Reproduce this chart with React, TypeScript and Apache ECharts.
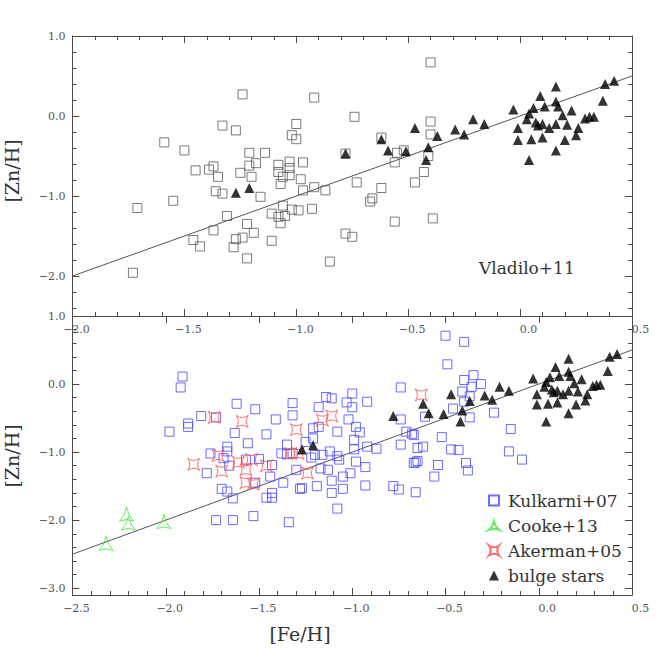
import React, { useEffect, useRef } from "react";
import * as echarts from "echarts";

// ---------- data ----------
// Top panel: Vladilo+11 (grey open squares)
const vladiloFe = [
  -1.24, -0.92, -0.74, -1.33, -1.27, -1.0, -1.59, -1.5, -1.02, -1.0,
  -1.21, -1.14, -1.45, -1.39, -1.37, -1.35, -1.25, -1.21, -1.18, -1.2,
  -1.08, -1.08, -1.03, -1.03, -1.06, -1.03, -1.07, -0.97, -0.98, -1.36,
  -1.33, -1.16, -1.71, -1.55, -1.31, -0.97, -0.92, -0.87, -0.73, -0.93,
  -1.06, -1.11, -1.08, -1.05, -1.07, -1.02, -0.99, -1.22, -1.19, -1.24,
  -1.27, -1.28, -1.22, -1.37, -1.46, -1.43, -1.11, -1.73, -0.85, -0.78,
  -0.75, -0.67, -0.66, -0.62, -0.56, -0.62, -0.55, -0.56, -0.78, -0.4,
  -0.4, -0.4, -0.41, -0.43, -0.47, -0.39, -0.52,
];
const vladiloZn = [
  0.27, 0.23, -0.01, -0.12, -0.18, -0.1, -0.33, -0.43, -0.24, -0.29,
  -0.46, -0.46, -0.68, -0.67, -0.63, -0.76, -0.71, -0.62, -0.59, -0.76,
  -0.61, -0.7, -0.57, -0.65, -0.76, -0.74, -0.85, -0.58, -0.79, -0.94,
  -0.97, -1.01, -1.15, -1.06, -1.25, -0.93, -0.89, -0.93, -0.83, -1.16,
  -1.12, -1.22, -1.26, -1.25, -1.34, -1.17, -1.18, -1.35, -1.46, -1.52,
  -1.54, -1.64, -1.78, -1.43, -1.55, -1.63, -1.56, -1.96, -1.82, -1.47,
  -1.51, -1.07, -1.03, -0.9, -1.32, -0.27, -0.46, -0.58, -0.47, 0.67,
  -0.07, -0.23, -0.5, -0.7, -0.83, -1.28, -0.43,
];

// Bottom panel: Kulkarni+07 (blue open squares)
const kulkarniFe = [
  -1.91, -1.92, -1.62, -1.52, -1.81, -1.73, -1.88, -1.88, -1.98, -1.63,
  -1.46, -1.56, -1.67, -1.67, -1.76, -1.69, -1.66, -1.57, -1.5, -1.78,
  -1.7, -1.67, -1.64, -1.52, -1.46, -1.44, -1.73, -1.64, -1.53, -1.43,
  -0.74, -0.61, -0.74, -0.71, -0.67, -0.74, -0.65, -0.62, -0.65, -0.67,
  -0.78, -0.75, -0.66, -1.0, -0.92, -1.03, -1.0, -1.14, -1.11, -1.18,
  -1.32, -1.32, -1.41, -1.02, -0.98, -0.96, -1.08, -1.18, -1.21, -1.21,
  -1.25, -0.99, -0.92, -0.87, -0.99, -1.12, -1.16, -1.2, -1.07, -0.98,
  -0.93, -1.01, -1.05, -1.13, -1.17, -1.11, -1.19, -1.27, -1.05, -1.11,
  -0.93, -1.08, -1.34, -1.35, -1.38, -1.35, -1.32, -1.3, -1.37, -1.28,
  -1.43, -1.43, -1.22, -1.08,
  -0.5, -0.4, -0.49, -0.4, -0.35, -0.31, -0.36, -0.41, -0.37, -0.4,
  -0.46, -0.37, -0.24, -0.15, -0.68, -0.52, -0.47, -0.43, -0.16, -0.09,
  -0.39, -0.38, -0.54, -0.56, -0.66,
];
const kulkarniZn = [
  0.11, -0.05, -0.29, -0.37, -0.47, -0.49, -0.58, -0.63, -0.7, -0.72,
  -0.74, -0.87, -0.92, -0.99, -1.02, -1.09, -1.2, -1.11, -1.1, -1.31,
  -1.54, -1.58, -1.68, -1.45, -1.67, -1.36, -2.0, -2.0, -1.94, -1.19,
  -0.05, -0.48, -0.52, -0.7, -0.75, -0.89, -0.94, -0.92, -1.13, -1.16,
  -1.5, -1.55, -1.59, -0.14, -0.26, -0.27, -0.34, -0.19, -0.21, -0.34,
  -0.28, -0.46, -0.52, -0.52, -0.63, -0.71, -0.7, -0.63, -0.65, -0.8,
  -0.85, -0.82, -0.92, -0.95, -0.96, -0.99, -1.04, -1.04, -1.11, -1.14,
  -1.22, -1.31, -1.36, -1.26, -1.24, -1.42, -1.5, -1.53, -1.54, -1.6,
  -1.49, -1.83, -2.03, -0.89, -1.02, -1.03, -1.02, -1.26, -1.45, -1.54,
  -1.67, -1.6, -1.08, -1.06,
  0.71, 0.62, 0.29, 0.06, 0.13, 0.0, -0.04, -0.11, -0.18, -0.26,
  -0.36, -0.49, -0.42, -0.66, -0.73, -0.78, -0.96, -0.97, -0.99, -1.11,
  -1.16, -1.27, -1.19, -1.36, -1.15,
];

// Cooke+13 (green)
const cookeFe = [-2.21, -2.2, -2.01, -2.32];
const cookeZn = [-1.91, -2.04, -2.02, -2.34];

// Akerman+05 (red)
const akermanFe = [
  -1.74, -1.59, -1.72, -1.85, -1.7, -1.61, -1.54, -1.57, -1.57, -1.53,
  -1.46, -1.3, -1.16, -1.11, -1.29, -1.33, -1.24, -0.63,
];
const akermanZn = [
  -0.49, -0.55, -1.05, -1.18, -1.28, -1.15, -1.11, -1.26, -1.45, -1.47,
  -1.2, -0.67, -0.53, -0.47, -1.02, -1.02, -1.31, -0.16,
];

// bulge stars (black filled triangles, both panels)
const bulgeFe = [
  -1.27, -1.21, -0.78, -0.62, -0.59, -0.51, -0.47, -0.37, -0.41, -0.42,
  -0.29, -0.25, -0.21, -0.16, -0.03, 0.04, 0.06, 0.09, 0.16, 0.11,
  0.16, 0.17, -0.01, 0.03, 0.07, 0.08, 0.1, 0.13, 0.16, -0.01,
  0.05, 0.1, 0.16, 0.04, 0.19, 0.21, 0.23, 0.26, 0.29, 0.31,
  0.33, 0.37, 0.38, 0.42, 0.2, 0.25,
];
const bulgeZn = [
  -0.96, -0.9, -0.47, -0.29, -0.43, -0.44, -0.15, -0.25, -0.39, -0.55,
  -0.17, -0.23, -0.04, -0.1, 0.08, 0.03, 0.1, 0.25, 0.37, 0.12,
  0.18, 0.12, -0.15, -0.04, -0.08, -0.12, -0.1, -0.15, -0.1, -0.3,
  -0.29, -0.27, -0.43, -0.55, 0.01, -0.11, 0.07, -0.15, -0.03, -0.01,
  -0.01, 0.19, 0.4, 0.44, -0.3, -0.24,
];

// one-to-one lines
const fitTopFe = [-2.0, 0.5];
const fitTopZn = [-2.0, 0.5];
const fitLowFe = [-2.5, 0.5];
const fitLowZn = [-2.5, 0.5];

// tick labels
const topXLabels = [-2.0, -1.5, -1.0, -0.5, 0.0, 0.5];
const topYLabels = [1.0, 0.0, -1.0, -2.0];
const lowXLabels = [-2.5, -2.0, -1.5, -1.0, -0.5, 0.0, 0.5];
const lowYLabels = [1.0, 0.0, -1.0, -2.0, -3.0];

const legendNames = ["Kulkarni+07", "Cooke+13", "Akerman+05", "bulge stars"];

// ---------- helpers ----------
const zip = (a: number[], b: number[]) => a.map((v, i) => [v, b[i]]);
const steps = (a: number, b: number, s: number) => {
  const out: number[] = [];
  const n = Math.round((b - a) / s);
  for (let i = 0; i <= n; i++) out.push(Math.round((a + i * s) * 100) / 100);
  return out;
};

const SERIF = "DejaVu Serif";
const AXC = "#4a4a4a";
const LABC = "#555";
const MAJ = 7;
const MIN = 4;

const fmt = (v: number) => (v < 0 ? "\u2212" + Math.abs(v).toFixed(1) : v.toFixed(1));

const xRich = {
  n: { padding: [0, 0, 0, 8], fontFamily: SERIF, fontSize: 11, color: LABC },
  p: { padding: [0, 0, 0, 17], fontFamily: SERIF, fontSize: 11, color: LABC },
};

function xAx(grid: number, pos: string, min: number, max: number, ticks: number[], len: number, line: boolean, labels?: number[]) {
  return {
    type: "value",
    gridIndex: grid,
    position: pos,
    min,
    max,
    axisLine: { show: line, onZero: false, lineStyle: { color: AXC, width: 1 } },
    axisTick: { show: true, inside: true, length: len, customValues: ticks, lineStyle: { color: AXC, width: 1 } },
    axisLabel: labels
      ? {
          show: true,
          customValues: labels,
          margin: 8,
          formatter: (v: number) => (v < 0 ? `{n|${fmt(v)}}` : `{p|${fmt(v)}}`),
          rich: xRich,
        }
      : { show: false },
    splitLine: { show: false },
  };
}

function yAx(grid: number, pos: string, min: number, max: number, ticks: number[], len: number, line: boolean, labels?: number[]) {
  return {
    type: "value",
    gridIndex: grid,
    position: pos,
    min,
    max,
    axisLine: { show: line, onZero: false, lineStyle: { color: AXC, width: 1 } },
    axisTick: { show: true, inside: true, length: len, customValues: ticks, lineStyle: { color: AXC, width: 1 } },
    axisLabel: labels
      ? {
          show: true,
          customValues: labels,
          margin: 7,
          formatter: (v: number) => fmt(v),
          fontFamily: SERIF,
          fontSize: 11,
          color: LABC,
        }
      : { show: false },
    splitLine: { show: false },
  };
}

const STAR4 = "path://M-10,-10 Q0,-3 10,-10 Q3,0 10,10 Q0,3 -10,10 Q-3,0 -10,-10 Z";
const TRI3 = "path://M0,-10 Q-2,-0.5 -8.66,5 Q0,1.8 8.66,5 Q2,-0.5 0,-10 Z";

export default function App() {
  const ref = useRef<HTMLDivElement>(null);
  useEffect(() => {
    if (!ref.current) return;
    const chart = echarts.init(ref.current, undefined, { renderer: "svg" });

    const tMaj = [-2, -1.5, -1, -0.5, 0, 0.5];
    const tMin = steps(-2, 0.5, 0.1);
    const lMaj = [-2.5, -2, -1.5, -1, -0.5, 0, 0.5];
    const lMin = steps(-2.5, 0.5, 0.1);
    const tyMaj = [-2, -1, 0, 1];
    const tyMin = steps(-2.4, 1.0, 0.2);
    const lyMaj = [-3, -2, -1, 0, 1];
    const lyMin = steps(-3.0, 1.0, 0.2);

    const option = {
      animation: false,
      backgroundColor: "#fff",
      grid: [
        { left: 72.5, top: 36, width: 559.5, height: 280 },
        { left: 72.5, top: 316, width: 559.5, height: 279 },
      ],
      xAxis: [
        xAx(0, "bottom", -2, 0.5, tMaj, MAJ, true, topXLabels),
        xAx(0, "bottom", -2, 0.5, tMin, MIN, false),
        xAx(0, "top", -2, 0.5, tMaj, MAJ, true),
        xAx(0, "top", -2, 0.5, tMin, MIN, false),
        xAx(1, "bottom", -2.5, 0.5, lMaj, MAJ, true, lowXLabels),
        xAx(1, "bottom", -2.5, 0.5, lMin, MIN, false),
        xAx(1, "top", -2.5, 0.5, lMaj, MAJ, true),
      ],
      yAxis: [
        yAx(0, "left", -2.5, 1.0, tyMaj, MAJ, true, topYLabels),
        yAx(0, "left", -2.5, 1.0, tyMin, MIN, false),
        yAx(0, "right", -2.5, 1.0, tyMaj, MAJ, true),
        yAx(0, "right", -2.5, 1.0, tyMin, MIN, false),
        yAx(1, "left", -3.1, 1.0, lyMaj, MAJ, true, lowYLabels),
        yAx(1, "left", -3.1, 1.0, lyMin, MIN, false),
        yAx(1, "right", -3.1, 1.0, lyMaj, MAJ, true),
        yAx(1, "right", -3.1, 1.0, lyMin, MIN, false),
      ],
      legend: {
        data: legendNames,
        orient: "vertical",
        left: 488,
        top: 492,
        padding: 0,
        itemWidth: 10,
        itemHeight: 10,
        itemGap: 8,
        selectedMode: false,
        textStyle: { fontFamily: SERIF, fontSize: 17, color: "#333", lineHeight: 17, padding: [0, 0, 0, 4] },
      },
      graphic: [
        { type: "text", left: 479, top: 259, style: { text: "Vladilo+11", font: `17px "${SERIF}"`, fill: "#333" } },
        { type: "text", x: 12, y: 171, rotation: Math.PI / 2, style: { text: "[Zn/H]", font: `19px "${SERIF}"`, fill: "#333", align: "center", verticalAlign: "middle" } },
        { type: "text", x: 12, y: 456, rotation: Math.PI / 2, style: { text: "[Zn/H]", font: `19px "${SERIF}"`, fill: "#333", align: "center", verticalAlign: "middle" } },
        { type: "text", x: 300, y: 634, style: { text: "[Fe/H]", font: `19px "${SERIF}"`, fill: "#333", align: "center", verticalAlign: "middle" } },
      ],
      series: [
        {
          name: "fitTop", type: "line", xAxisIndex: 0, yAxisIndex: 0, data: zip(fitTopFe, fitTopZn),
          symbol: "none", silent: true, lineStyle: { color: "#555", width: 1 }, z: 1,
        },
        {
          name: "Vladilo+11", type: "scatter", xAxisIndex: 0, yAxisIndex: 0, data: zip(vladiloFe, vladiloZn),
          symbol: "rect", symbolSize: 9, itemStyle: { color: "rgba(0,0,0,0)", borderColor: "#5a5a5a", borderWidth: 1 }, z: 2,
        },
        {
          name: "bulge stars", type: "scatter", xAxisIndex: 0, yAxisIndex: 0, data: zip(bulgeFe, bulgeZn),
          symbol: "triangle", symbolSize: 10, itemStyle: { color: "#000" }, z: 3,
        },
        {
          name: "fitLow", type: "line", xAxisIndex: 4, yAxisIndex: 4, data: zip(fitLowFe, fitLowZn),
          symbol: "none", silent: true, lineStyle: { color: "#555", width: 1 }, z: 1,
        },
        {
          name: "Kulkarni+07", type: "scatter", xAxisIndex: 4, yAxisIndex: 4, data: zip(kulkarniFe, kulkarniZn),
          symbol: "rect", symbolSize: 9, itemStyle: { color: "rgba(0,0,0,0)", borderColor: "#4646ff", borderWidth: 1 }, z: 2,
        },
        {
          name: "Cooke+13", type: "scatter", xAxisIndex: 4, yAxisIndex: 4, data: zip(cookeFe, cookeZn),
          symbol: TRI3, symbolSize: 14, itemStyle: { color: "rgba(0,0,0,0)", borderColor: "#3ee63e", borderWidth: 1 }, z: 3,
        },
        {
          name: "Akerman+05", type: "scatter", xAxisIndex: 4, yAxisIndex: 4, data: zip(akermanFe, akermanZn),
          symbol: STAR4, symbolSize: 12, itemStyle: { color: "rgba(0,0,0,0)", borderColor: "#ff4a4a", borderWidth: 1 }, z: 3,
        },
        {
          name: "bulge stars", type: "scatter", xAxisIndex: 4, yAxisIndex: 4, data: zip(bulgeFe, bulgeZn),
          symbol: "triangle", symbolSize: 10, itemStyle: { color: "#000" }, z: 4,
        },
      ],
    };
    chart.setOption(option as any);
    return () => chart.dispose();
  }, []);
  return <div ref={ref} style={{ position: "fixed", left: 0, top: 0, width: 667, height: 667 }} />;
}
